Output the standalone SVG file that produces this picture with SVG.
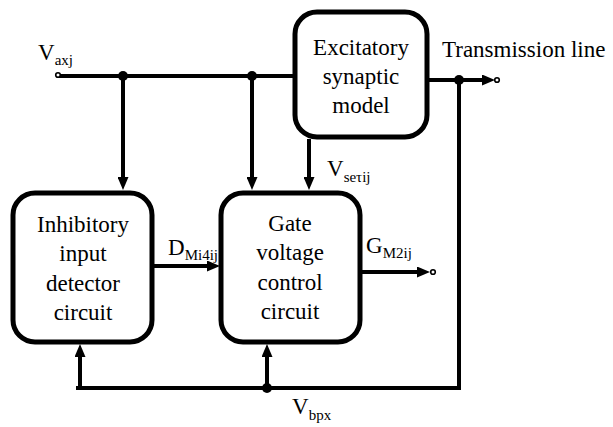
<svg xmlns="http://www.w3.org/2000/svg" width="613" height="427" viewBox="0 0 613 427">
<style>
  .box { fill: #fff; stroke: #000; stroke-width: 5; }
  .wire { fill: none; stroke: #000; stroke-width: 4; }
  .arr { marker-end: url(#ah); }
  .dot { fill: #000; }
  .term { fill: #fff; stroke: #000; stroke-width: 1.6; }
  .lbl { font-size: 23px; text-anchor: middle; }
  .v { font-size: 23px; }
  .sub { font-size: 15px; }
</style>
<defs>
  <marker id="ah" markerUnits="userSpaceOnUse" viewBox="0 0 13 11" refX="6" refY="5.5" markerWidth="13" markerHeight="11" orient="auto">
    <path d="M0,0 L13,5.5 L0,11 Z" fill="#000"/>
  </marker>
</defs>
<rect width="613" height="427" fill="#fff"/>

<g id="connectors">
  <line class="wire" x1="58" y1="76" x2="296" y2="76"/>
  <line class="wire arr" x1="123" y1="76" x2="123" y2="183"/>
  <line class="wire arr" x1="252" y1="76" x2="252" y2="183"/>
  <line class="wire arr" x1="309" y1="139" x2="309" y2="183"/>
  <line class="wire arr" x1="428" y1="80" x2="488" y2="80"/>
  <line class="wire" x1="459" y1="80" x2="459" y2="390"/>
  <line class="wire" x1="76" y1="388" x2="461" y2="388"/>
  <line class="wire arr" x1="80" y1="388" x2="80" y2="351"/>
  <line class="wire arr" x1="267" y1="388" x2="267" y2="351"/>
  <line class="wire arr" x1="152" y1="266" x2="213" y2="266"/>
  <line class="wire arr" x1="361" y1="272" x2="423" y2="272"/>
  <circle class="dot" cx="123" cy="76" r="5"/>
  <circle class="dot" cx="252" cy="76" r="5"/>
  <circle class="dot" cx="459" cy="80" r="5"/>
  <circle class="dot" cx="267" cy="388" r="5"/>
  <circle class="term" cx="58" cy="75" r="2.3"/>
  <circle class="term" cx="497" cy="80" r="2.3"/>
  <circle class="term" cx="433" cy="272" r="2.3"/>
</g>

<g id="excitatory" font-family="Liberation Serif, DejaVu Serif, Noto Serif, serif">
  <rect class="box" x="295" y="12" width="132" height="125" rx="22"/>
  <text class="lbl" x="361" y="55">Excitatory</text>
  <text class="lbl" x="361" y="84">synaptic</text>
  <text class="lbl" x="361" y="113">model</text>
</g>

<g id="inhibitory" font-family="Liberation Serif, DejaVu Serif, Noto Serif, serif">
  <rect class="box" x="13" y="193" width="139" height="149" rx="22"/>
  <text class="lbl" x="83" y="232">Inhibitory</text>
  <text class="lbl" x="83" y="261">input</text>
  <text class="lbl" x="83" y="291">detector</text>
  <text class="lbl" x="83" y="320">circuit</text>
</g>

<g id="gate" font-family="Liberation Serif, DejaVu Serif, Noto Serif, serif">
  <rect class="box" x="221" y="193" width="139" height="149" rx="22"/>
  <text class="lbl" x="290" y="231">Gate</text>
  <text class="lbl" x="290" y="260">voltage</text>
  <text class="lbl" x="290" y="290">control</text>
  <text class="lbl" x="290" y="319">circuit</text>
</g>

<g id="labels" font-family="Liberation Serif, DejaVu Serif, Noto Serif, serif">
  <text class="v" x="38" y="60">V<tspan class="sub" dy="5">axj</tspan></text>
  <text class="v" x="442" y="57">Transmission line</text>
  <text class="v" x="168" y="255">D<tspan class="sub" dy="5">Mi4ij</tspan></text>
  <text class="v" x="327" y="176">V<tspan class="sub" dy="6">seτij</tspan></text>
  <text class="v" x="366" y="253">G<tspan class="sub" dy="5">M2ij</tspan></text>
  <text class="v" x="292" y="414">V<tspan class="sub" dy="6">bpx</tspan></text>
</g>
</svg>
